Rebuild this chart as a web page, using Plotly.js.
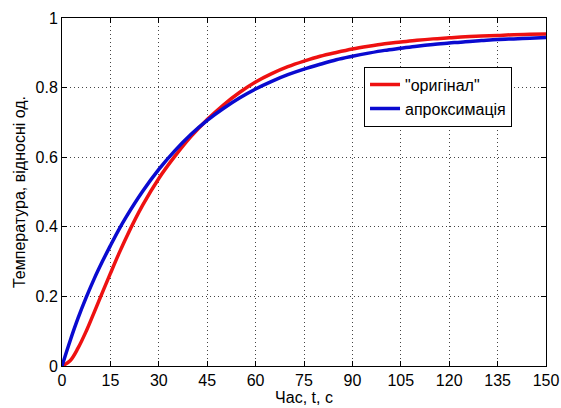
<!DOCTYPE html>
<html>
<head>
<meta charset="utf-8">
<script src="https://cdn.plot.ly/plotly-3.0.1.min.js"></script>
<style>html,body{margin:0;padding:0;background:#fff;}#chart{width:561px;height:408px;}</style>
</head>
<body>
<div id="chart"></div>
<script>
// time, s
const time = [0, 2.5, 5, 7.5, 10, 12.5, 15, 17.5, 20, 25, 30, 35, 40, 45, 50, 55, 60, 65, 70, 75, 80, 85, 90, 95, 100, 105, 110, 115, 120, 125, 130, 135, 140, 145, 150];
// "оригінал"
const original = [0, 0.015, 0.052, 0.100, 0.155, 0.211, 0.266, 0.320, 0.371, 0.462, 0.539, 0.603, 0.660, 0.708, 0.750, 0.786, 0.816, 0.840, 0.860, 0.876, 0.890, 0.901, 0.911, 0.919, 0.926, 0.931, 0.936, 0.940, 0.943, 0.946, 0.948, 0.950, 0.952, 0.953, 0.954];
// апроксимація
const approx = [0, 0.072, 0.138, 0.197, 0.251, 0.300, 0.346, 0.390, 0.430, 0.502, 0.565, 0.619, 0.666, 0.706, 0.740, 0.770, 0.796, 0.818, 0.837, 0.853, 0.867, 0.880, 0.890, 0.899, 0.907, 0.913, 0.919, 0.924, 0.928, 0.932, 0.935, 0.938, 0.940, 0.942, 0.944];
const seriesNames = ['"оригінал"', 'апроксимація'];
const xTicks = [0, 15, 30, 45, 60, 75, 90, 105, 120, 135, 150];
const yTicks = [0, 0.2, 0.4, 0.6, 0.8, 1];

const fam = 'Liberation Sans, Arial, sans-serif';
const tickFont = {family: fam, size: 16, color: '#000'};
const titleFont = {family: fam, size: 16, color: '#000'};
const axisCommon = {
  showline: true, linecolor: '#000', linewidth: 1, mirror: 'allticks',
  ticks: 'inside', ticklen: 5, tickcolor: '#000',
  showgrid: true, gridcolor: '#444', griddash: '1px,3px', gridwidth: 1,
  zeroline: false, tickfont: tickFont
};
const traces = [
  {x: time, y: original, name: seriesNames[0], mode: 'lines', line: {color: '#ee1111', width: 3.5, shape: 'spline'}},
  {x: time, y: approx, name: seriesNames[1], mode: 'lines', line: {color: '#0a0ad0', width: 3.5, shape: 'spline'}}
];
const layout = {
  width: 561, height: 408,
  margin: {l: 62, r: 15, t: 18, b: 42},
  paper_bgcolor: '#fff', plot_bgcolor: '#fff',
  font: tickFont,
  showlegend: true,
  legend: {x: 0.624, y: 0.86, xanchor: 'left', yanchor: 'top', bgcolor: '#fff', bordercolor: '#000', borderwidth: 1, font: {family: fam, size: 16, color: '#000'}, tracegroupgap: 0},
  xaxis: Object.assign({}, axisCommon, {range: [0, 150], tickvals: xTicks, ticktext: xTicks.map(String), title: {text: 'Час, t, с', font: titleFont, standoff: 1}, automargin: false}),
  yaxis: Object.assign({}, axisCommon, {range: [0, 1], tickvals: yTicks, ticktext: yTicks.map(String), title: {text: 'Температура, відносні од.', font: titleFont, standoff: 5}, automargin: false})
};
Plotly.newPlot('chart', traces, layout, {displayModeBar: false, staticPlot: true});
</script>
</body>
</html>
